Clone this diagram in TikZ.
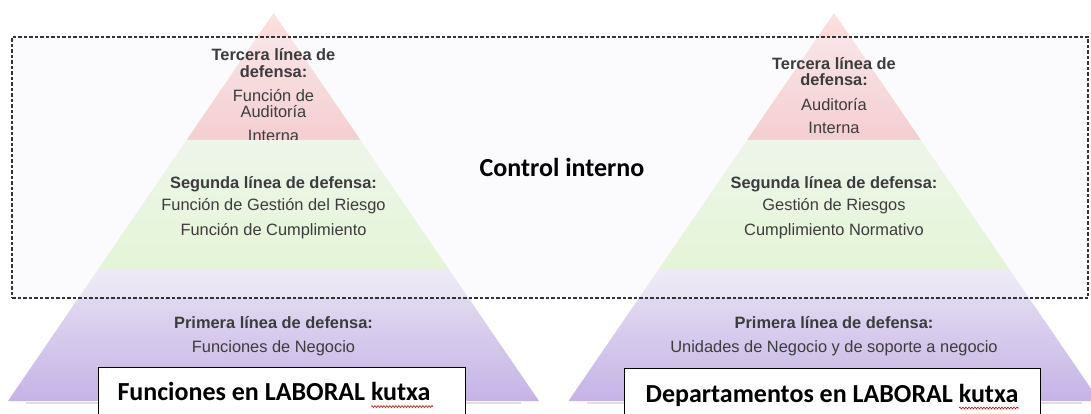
\documentclass[tikz,border=0pt]{standalone}
\usepackage{fontspec}
\setmainfont{Liberation Sans}
\newfontfamily\calibri{Carlito}
\usetikzlibrary{calc,decorations.pathmorphing}
\definecolor{pinkT}{HTML}{FCE2E2}
\definecolor{pinkB}{HTML}{F4B4B6}
\definecolor{greenT}{HTML}{EAF5E0}
\definecolor{greenB}{HTML}{D9F5C0}
\definecolor{lavT}{HTML}{E8E3F3}
\definecolor{lavB}{HTML}{C5B3E6}
\definecolor{rectF}{HTML}{F5F6FA}
\definecolor{txt}{HTML}{3C3C3C}
\definecolor{dashc}{HTML}{333333}
\begin{document}
\begin{tikzpicture}[x=1pt,y=-1pt,
  lvl/.style={font=\fontsize{16.4}{17}\selectfont, text=txt, inner sep=0pt, anchor=base},
  lvlb/.style={lvl, font=\fontsize{16.4}{17}\selectfont\bfseries},
  bigtxt/.style={font=\calibri\bfseries\fontsize{26}{28}\selectfont, text=black, inner sep=0pt, anchor=base},
  ctrlbox/.style={draw=dashc, line width=1.2pt, dash pattern=on 3.5pt off 2pt, inner sep=0pt},
  labelbox/.style={draw=black, line width=1.3pt, fill=white, inner sep=0pt, anchor=north west},
  squiggle/.style={draw=red!85!black, line width=0.6pt, decorate, decoration={snake, amplitude=0.9pt, segment length=3pt}},
  baseshadow/.style={draw=gray, line width=2pt, opacity=0.25}
]
\clip (0,0) rectangle (1091,414);
\fill[white] (0,0) rectangle (1091,414);

% pyramids
\foreach \p/\cx in {L/273.5, R/834}{
  \coordinate (\p A) at (\cx,13);
  \coordinate (\p L) at (\cx-265.5,401);
  \coordinate (\p R) at (\cx+265.5,401);
  \coordinate (\p 1l) at ($(\p A)!0.3273!(\p L)$);
  \coordinate (\p 1r) at ($(\p A)!0.3273!(\p R)$);
  \coordinate (\p 2l) at ($(\p A)!0.6598!(\p L)$);
  \coordinate (\p 2r) at ($(\p A)!0.6598!(\p R)$);
  \draw[baseshadow] ($(\p L)+(18,2)$) -- ($(\p R)+(-18,2)$);
  \shade[top color=pinkT, bottom color=pinkB] (\p A) -- (\p 1l) -- (\p 1r) -- cycle;
  \shade[top color=greenT, bottom color=greenB] (\p 1l) -- (\p 2l) -- (\p 2r) -- (\p 1r) -- cycle;
  \shade[top color=lavT, bottom color=lavB] (\p 2l) -- (\p L) -- (\p R) -- (\p 2r) -- cycle;
}

% control interno frame
\fill[rectF, opacity=0.4] (12,37) rectangle (1088,298);
\node[ctrlbox, minimum width=1076pt, minimum height=261pt] (ctrl) at (550,167.5) {};
\node[bigtxt] (ctrltxt) at (562,176) {Control interno};

% left pyramid texts
\node[lvlb] (l3a) at (273.5,61) {Tercera línea de};
\node[lvlb] (l3b) at (273.5,77.5) {defensa:};
\node[lvl] (l3c) at (273.5,101.5) {Función de};
\node[lvl] (l3d) at (273.5,117.5) {Auditoría};
\begin{scope}
  \clip (0,0) rectangle (1091,140);
  \node[lvl] (l3e) at (273.5,141.5) {Interna};
\end{scope}
\node[lvlb] (l2a) at (273.5,188.5) {Segunda línea de defensa:};
\node[lvl] (l2b) at (273.5,210.5) {Función de Gestión del Riesgo};
\node[lvl] (l2c) at (273.5,235.5) {Función de Cumplimiento};
\node[lvlb] (l1a) at (273.5,328.5) {Primera línea de defensa:};
\node[lvl] (l1b) at (273.5,352.5) {Funciones de Negocio};

% right pyramid texts
\node[lvlb] (r3a) at (834,69.5) {Tercera línea de};
\node[lvlb] (r3b) at (834,85.5) {defensa:};
\node[lvl] (r3c) at (834,110.5) {Auditoría};
\node[lvl] (r3d) at (834,133.5) {Interna};
\node[lvlb] (r2a) at (834,188.5) {Segunda línea de defensa:};
\node[lvl] (r2b) at (834,210.5) {Gestión de Riesgos};
\node[lvl] (r2c) at (834,235.5) {Cumplimiento Normativo};
\node[lvlb] (r1a) at (834,328.5) {Primera línea de defensa:};
\node[lvl] (r1b) at (834,352.5) {Unidades de Negocio y de soporte a negocio};

% label boxes
\node[labelbox, minimum width=367pt, minimum height=60pt] (lbox) at (98,367) {};
\node[bigtxt] (ltxt) at (274,400) {Funciones en LABORAL kutxa};
\node[labelbox, minimum width=416pt, minimum height=60pt] (rbox) at (624,368) {};
\node[bigtxt] (rtxt) at (832,402) {Departamentos en LABORAL kutxa};
\draw[squiggle] (371,406.5) -- (433,406.5);
\draw[squiggle] (959,408) -- (1019,408);
\end{tikzpicture}
\end{document}
